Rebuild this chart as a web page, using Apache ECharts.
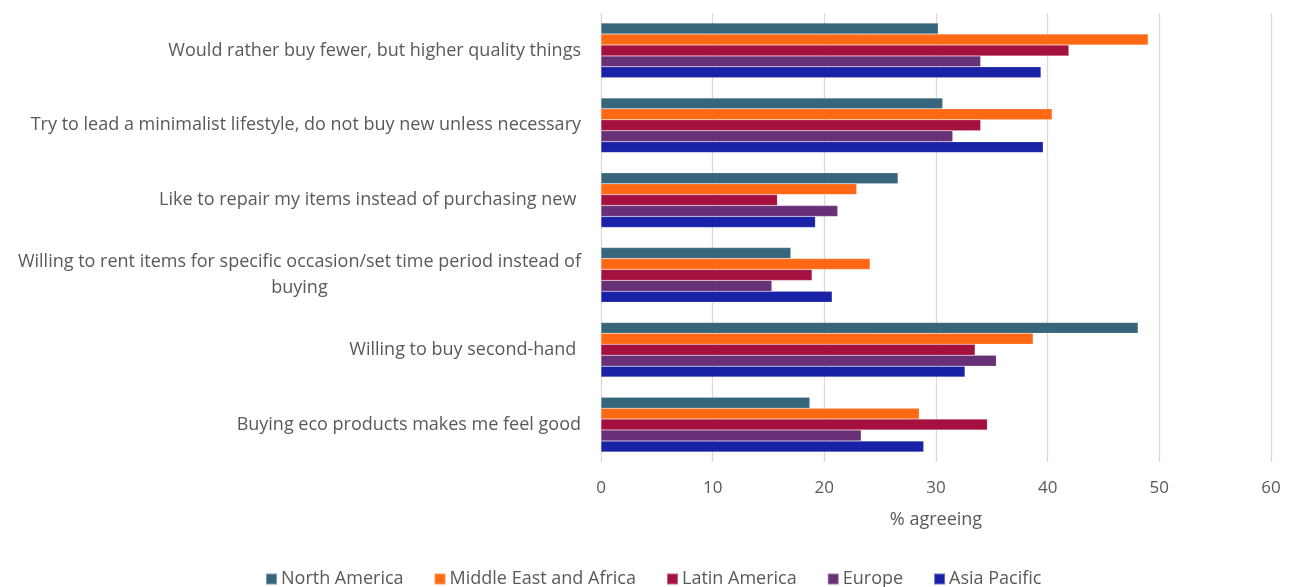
<!DOCTYPE html>
<html>
<head>
<meta charset="utf-8">
<script src="https://cdn.jsdelivr.net/npm/echarts@6/dist/echarts.min.js"></script>
<style>
html,body{margin:0;padding:0;background:#fff;}
#chart{width:1290px;height:587px;}
</style>
</head>
<body>
<div id="chart"></div>
<script>
const categories = [
  "Would rather buy fewer, but higher quality things",
  "Try to lead a minimalist lifestyle, do not buy new unless necessary",
  "Like to repair my items instead of purchasing new ",
  "Willing to rent items for specific occasion/set time period instead of\nbuying",
  "Willing to buy second-hand ",
  "Buying eco products makes me feel good"
];
const seriesNames = ["North America", "Middle East and Africa", "Latin America", "Europe", "Asia Pacific"];
const northAmerica = [30.2, 30.6, 26.6, 17.0, 48.1, 18.7];
const middleEastAfrica = [49.0, 40.4, 22.9, 24.1, 38.7, 28.5];
const latinAmerica = [41.9, 34.0, 15.8, 18.9, 33.5, 34.6];
const europe = [34.0, 31.5, 21.2, 15.3, 35.4, 23.3];
const asiaPacific = [39.4, 39.6, 19.2, 20.7, 32.6, 28.9];
const xTicks = [0, 10, 20, 30, 40, 50, 60];

const colors = ["#37657c", "#ff6914", "#a5113f", "#683076", "#1922a7"];
const values = [northAmerica, middleEastAfrica, latinAmerica, europe, asiaPacific];
const FONT = "Open Sans";

const chart = echarts.init(document.getElementById('chart'), null, {renderer: 'canvas'});
chart.setOption({
  animation: false,
  color: colors,
  textStyle: {fontFamily: FONT},
  grid: {left: 601, right: 19, top: 13, bottom: 125, containLabel: false},
  xAxis: {
    type: 'value',
    min: xTicks[0],
    max: xTicks[xTicks.length - 1],
    interval: xTicks[1] - xTicks[0],
    name: '% agreeing',
    nameLocation: 'middle',
    nameGap: 49,
    nameTextStyle: {color: '#595959', fontSize: 18, fontFamily: FONT},
    axisLine: {show: false},
    axisTick: {show: false},
    axisLabel: {color: '#595959', fontSize: 17, margin: 18, fontFamily: FONT},
    splitLine: {show: true, lineStyle: {color: '#d9d9d9', width: 1.3}}
  },
  yAxis: {
    type: 'category',
    data: categories,
    inverse: true,
    axisLine: {show: false},
    axisTick: {show: false},
    axisLabel: {
      color: '#595959', fontSize: 18, margin: 20, fontFamily: FONT, lineHeight: 26,
      formatter: function (v) {
        const parts = v.split('\n');
        if (parts.length === 1) return v;
        return '{a|' + parts[0] + '}\n{b|' + parts[1] + '}';
      },
      rich: {
        a: {color: '#595959', fontSize: 18, fontFamily: FONT, lineHeight: 26},
        b: {color: '#595959', fontSize: 18, fontFamily: FONT, lineHeight: 26, align: 'center'}
      }
    }
  },
  legend: {
    bottom: -6,
    left: 260,
    itemWidth: 11,
    itemHeight: 11,
    itemGap: 30,
    icon: 'rect',
    textStyle: {color: '#595959', fontSize: 18, fontFamily: FONT, padding: [0, 0, 0, -1]},
    data: seriesNames
  },
  series: seriesNames.map((n, i) => ({
    name: n,
    type: 'bar',
    data: values[i],
    barGap: '0%',
    barCategoryGap: '27%',
    itemStyle: {color: colors[i], borderColor: 'rgba(255,255,255,0.35)', borderWidth: 0.5}
  }))
});
</script>
</body>
</html>
